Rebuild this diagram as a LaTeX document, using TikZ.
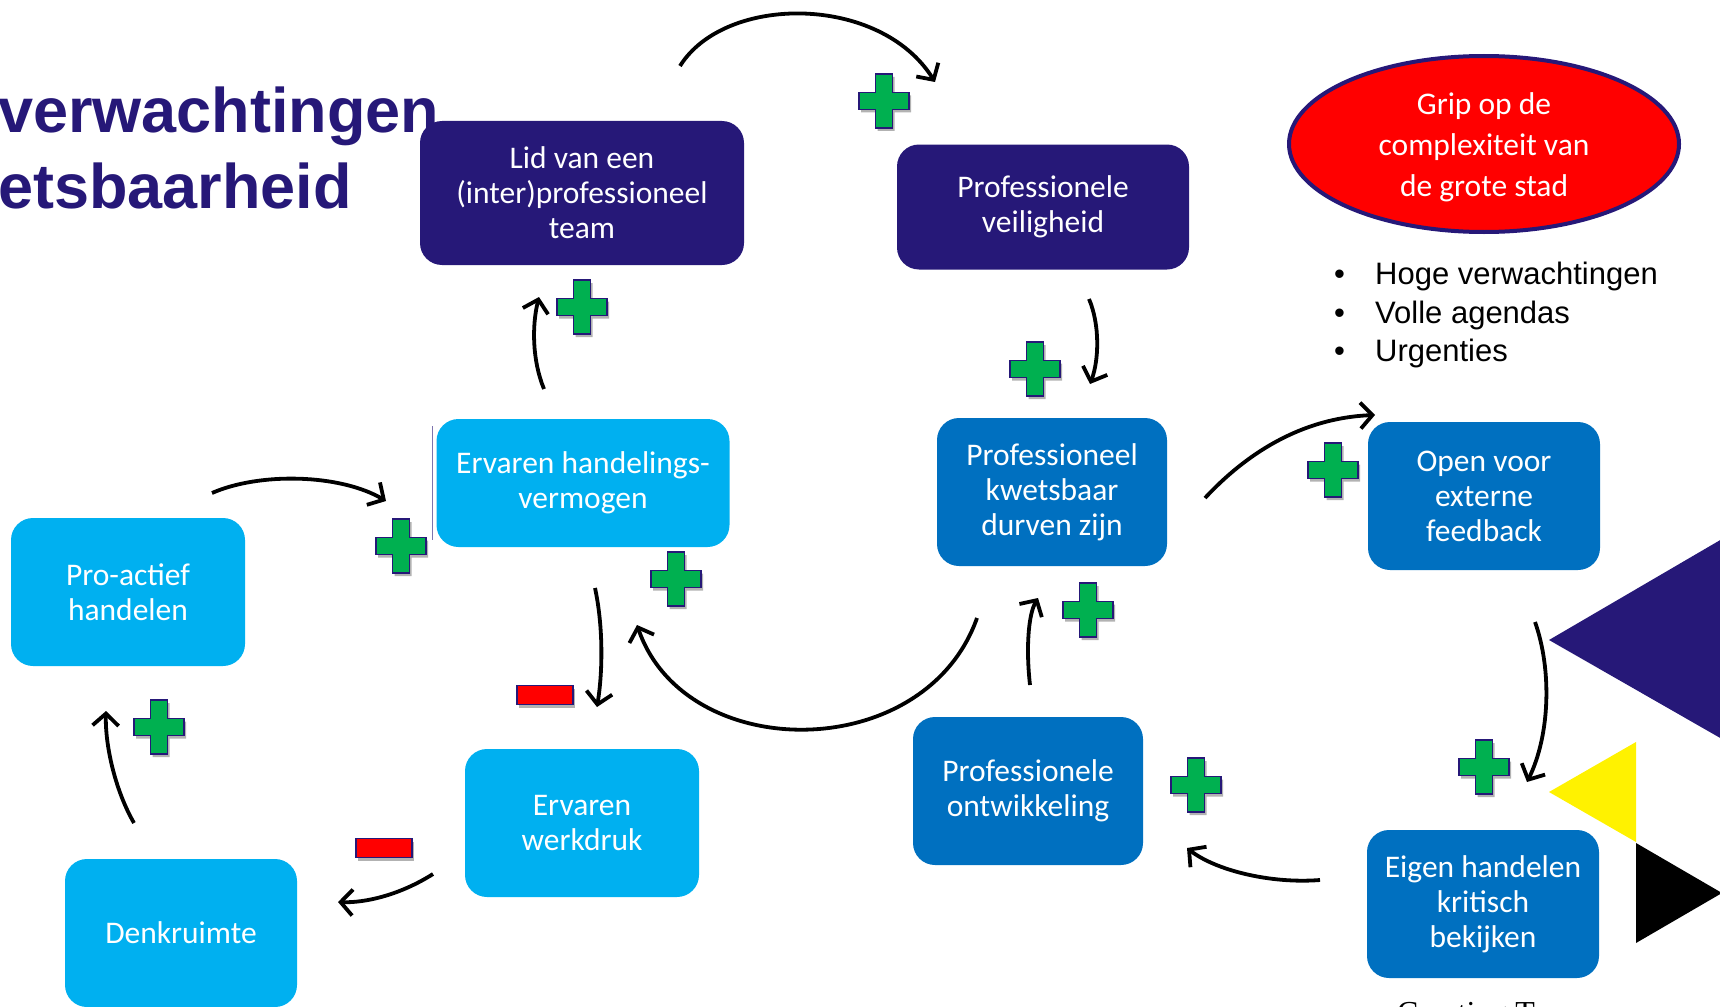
\documentclass[tikz,border=0pt]{standalone}
\usepackage{fontspec}
\setmainfont{Carlito}
\newfontfamily\arialfont{Liberation Sans}
\newfontfamily\timesfont{Liberation Serif}
\usetikzlibrary{shapes.geometric,arrows.meta}
\definecolor{navy}{RGB}{38,24,120}
\definecolor{lightblue}{RGB}{0,176,240}
\definecolor{midblue}{RGB}{0,112,192}
\definecolor{plusgreen}{RGB}{0,176,80}

\begin{document}
\begin{tikzpicture}[x=1pt,y=-1pt,
	box/.style={rounded corners=22pt, minimum width=232pt, minimum height=148pt, inner sep=0pt,
		text=white, align=center, font=\fontsize{31.5}{35}\selectfont},
	arr/.style={-{Straight Barb[length=12pt,width=26pt]}, line width=3.8pt},
	plussign/.pic={
		\fill[black, opacity=0.3] (-8.5+2,-27+3) -- (8.5+2,-27+3) -- (8.5+2,-8.5+3) -- (25+2,-8.5+3) -- (25+2,8.5+3) -- (8.5+2,8.5+3) -- (8.5+2,27+3) -- (-8.5+2,27+3) -- (-8.5+2,8.5+3) -- (-25+2,8.5+3) -- (-25+2,-8.5+3) -- (-8.5+2,-8.5+3) -- cycle;
		\filldraw[fill=plusgreen, draw=navy, line width=1.8pt] (-8.5,-27) -- (8.5,-27) -- (8.5,-8.5) -- (25,-8.5) -- (25,8.5) -- (8.5,8.5) -- (8.5,27) -- (-8.5,27) -- (-8.5,8.5) -- (-25,8.5) -- (-25,-8.5) -- (-8.5,-8.5) -- cycle;
	},
	minussign/.pic={
		\fill[black, opacity=0.3] (-28+2,-9.5+3) rectangle (28+2,9.5+3);
		\filldraw[fill=red, draw=navy, line width=1.8pt] (-28,-9.5) rectangle (28,9.5);
	}]
	
	\useasboundingbox (0,0) rectangle (1720,1006);
	\clip (0,0) rectangle (1720,1006);
	
	% title
	\node[anchor=base west, inner sep=0pt, text=navy, font=\arialfont\bfseries\fontsize{63}{76}\selectfont] (t1) at (-2,132) {verwachtingen};
	\node[anchor=base west, inner sep=0pt, text=navy, font=\arialfont\bfseries\fontsize{63}{76}\selectfont] (t2) at (-2,208) {etsbaarheid};
	
	% triangles
	\fill[navy] (1549,640) -- (1722,539) -- (1722,739) -- cycle;
	\fill[yellow] (1549,792) -- (1636,742) -- (1636,842) -- cycle;
	\fill[black] (1636,843) -- (1722,893) -- (1636,943) -- cycle;
	
	% boxes
	\node[box, fill=navy, minimum width=324pt, minimum height=144pt] (lid) at (582,193) {Lid van een\\(inter)professioneel\\team};
	\node[box, fill=navy, minimum width=292pt, minimum height=125pt] (veil) at (1043,207) {Professionele\\veiligheid};
	\draw[navy!60, line width=1pt] (432,426) -- (432,540);
	\node[box, fill=lightblue, minimum width=293pt, minimum height=128pt] (hand) at (583,483) {Ervaren handelings-\\vermogen};
	\node[box, fill=midblue, minimum width=230pt] (kwets) at (1052,492) {Professioneel\\kwetsbaar\\durven zijn};
	\node[box, fill=midblue] (open) at (1484,496) {Open voor\\externe\\feedback};
	\node[box, fill=lightblue, minimum width=234pt] (pro) at (128,592) {Pro-actief\\handelen};
	\node[box, fill=lightblue, minimum width=234pt] (werk) at (582,823) {Ervaren\\werkdruk};
	\node[box, fill=lightblue] (denk) at (181,933) {Denkruimte};
	\node[box, fill=midblue, minimum width=230pt] (ontw) at (1028,791) {Professionele\\ontwikkeling};
	\node[box, fill=midblue] (eigen) at (1483,904) {Eigen handelen\\kritisch\\bekijken};
	
	\node[ellipse, fill=red, draw=navy, line width=4pt, minimum width=390pt, minimum height=176pt, inner sep=0pt,
		text=white, align=center, font=\fontsize{31.5}{41}\selectfont] (grip) at (1484,144) {};
	\node[inner sep=0pt, text=white, align=center, font=\fontsize{31.5}{41}\selectfont] (griptext) at (1484,147) {Grip op de\\complexiteit van\\de grote stad};
	
	\node[anchor=west, inner sep=0pt, align=left, font=\arialfont\fontsize{31}{38.5}\selectfont] (list) at (1334,315)
		{\makebox[41pt][l]{•}Hoge verwachtingen\\\makebox[41pt][l]{•}Volle agendas\\\makebox[41pt][l]{•}Urgenties};
	
	\node[anchor=base west, inner sep=0pt, font=\timesfont\fontsize{32}{38}\selectfont] (ct) at (1397,1023) {Creating T};
	
	% arrow ends
	\coordinate (s1) at (680,66);   \coordinate (e1) at (935,82);
	\coordinate (s2) at (1089,299); \coordinate (e2) at (1090,384);
	\coordinate (s3) at (1205,498); \coordinate (e3) at (1375,415);
	\coordinate (s4) at (1535,622); \coordinate (e4) at (1527,782);
	\coordinate (s5) at (1320,880); \coordinate (e5) at (1187,848);
	\coordinate (s6) at (1030,685); \coordinate (e6) at (1038,598);
	\coordinate (s7) at (977,618);  \coordinate (e7) at (637,625);
	\coordinate (s8) at (595,588);  \coordinate (e8) at (597,707);
	\coordinate (s9) at (433,874);  \coordinate (e9) at (338,902);
	\coordinate (s10) at (134,823); \coordinate (e10) at (106,711);
	\coordinate (s11) at (212,493); \coordinate (e11) at (386,501);
	\coordinate (s12) at (544,389); \coordinate (e12) at (539,297);
	
	\draw[arr] (s1) .. controls (725,-6) and (880,-6) .. (e1);
	\draw[arr] (s2) .. controls (1100,325) and (1099,360) .. (e2);
	\draw[arr] (s3) .. controls (1245,455) and (1300,418) .. (e3);
	\draw[arr] (s4) .. controls (1552,670) and (1550,735) .. (e4);
	\draw[arr] (s5) .. controls (1270,884) and (1215,870) .. (e5);
	\draw[arr] (s6) .. controls (1026,650) and (1028,615) .. (e6);
	\draw[arr] (s7) .. controls (925,765) and (685,765) .. (e7);
	\draw[arr] (s8) .. controls (603,625) and (603,670) .. (e8);
	\draw[arr] (s9) .. controls (400,895) and (365,903) .. (e9);
	\draw[arr] (s10) .. controls (115,790) and (105,745) .. (e10);
	\draw[arr] (s11) .. controls (260,472) and (340,474) .. (e11);
	\draw[arr] (s12) .. controls (532,360) and (532,325) .. (e12);
	
	% plus and minus
	\pic at (884,101) {plussign};
	\pic at (582,307) {plussign};
	\pic at (1035,369) {plussign};
	\pic at (1333,470) {plussign};
	\pic at (401,546) {plussign};
	\pic at (676,579) {plussign};
	\pic at (1088,610) {plussign};
	\pic at (159,727) {plussign};
	\pic at (1196,785) {plussign};
	\pic at (1484,767) {plussign};
	\pic at (545,695) {minussign};
	\pic at (384,848) {minussign};
	
\end{tikzpicture}
\end{document}
